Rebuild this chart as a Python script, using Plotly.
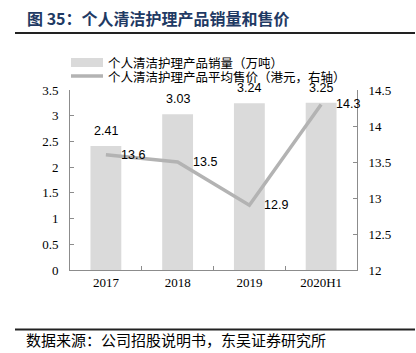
import plotly.graph_objects as go

categories = ["2017", "2018", "2019", "2020H1"]
volume = [2.41, 3.03, 3.24, 3.25]
price = [13.6, 13.5, 12.9, 14.3]
volume_labels = ["2.41", "3.03", "3.24", "3.25"]
price_labels = ["13.6", "13.5", "12.9", "14.3"]
left_ticks = [0, 0.5, 1, 1.5, 2, 2.5, 3, 3.5]
right_ticks = [12, 12.5, 13, 13.5, 14, 14.5]

title_text = "图 35：个人清洁护理产品销量和售价"
legend_bar = "个人清洁护理产品销量（万吨）"
legend_line = "个人清洁护理产品平均售价（港元，右轴）"
source_text = "数据来源：公司招股说明书，东吴证券研究所"

W, H = 416, 353
ML, MR, MT, MB = 70, 59, 90, 83
PW, PH = W - ML - MR, H - MT - MB

BAR_COLOR = "#dadada"
LINE_COLOR = "#b3b3b3"
AXIS_COLOR = "#8c8c8c"
SERIF = "Liberation Serif"
SANS = "Liberation Sans"
CJK = "Noto Sans CJK SC"

fig = go.Figure()
fig.add_trace(go.Bar(x=categories, y=volume, marker=dict(color=BAR_COLOR, line=dict(width=0)),
                     width=0.43, showlegend=False, hoverinfo="skip"))
fig.add_trace(go.Scatter(x=categories, y=price, yaxis="y2", mode="lines",
                         line=dict(color=LINE_COLOR, width=3.5), showlegend=False, hoverinfo="skip"))

annotations = []
for i, (v, t) in enumerate(zip(volume, volume_labels)):
    annotations.append(dict(x=i, y=v, xref="x", yref="y", text=t, showarrow=False,
                            yanchor="bottom", yshift=6,
                            font=dict(family=SANS, size=12.5, color="#000")))
for i, (v, t) in enumerate(zip(price, price_labels)):
    annotations.append(dict(x=i, y=v, xref="x", yref="y2", text=t, showarrow=False,
                            xanchor="left", xshift=13,
                            font=dict(family=SANS, size=12.5, color="#000")))

def px_x(p):
    return (p - ML) / PW
def px_y(p):
    return (H - MB - p) / PH

annotations.append(dict(x=px_x(25), y=px_y(18), xref="paper", yref="paper", text="<b>" + title_text + "</b>",
                        showarrow=False, xanchor="left", yanchor="middle",
                        font=dict(family=CJK, size=16, color="#1f3a64")))
annotations.append(dict(x=px_x(106), y=px_y(62), xref="paper", yref="paper", text=legend_bar,
                        showarrow=False, xanchor="left", yanchor="middle",
                        font=dict(family=CJK, size=12.5, color="#000")))
annotations.append(dict(x=px_x(106), y=px_y(76), xref="paper", yref="paper", text=legend_line,
                        showarrow=False, xanchor="left", yanchor="middle",
                        font=dict(family=CJK, size=12.5, color="#000")))
annotations.append(dict(x=px_x(24), y=px_y(339), xref="paper", yref="paper", text=source_text,
                        showarrow=False, xanchor="left", yanchor="middle",
                        font=dict(family=CJK, size=15, color="#000")))

shapes = [
    dict(type="line", xref="paper", yref="paper", x0=px_x(15), x1=px_x(415), y0=px_y(33), y1=px_y(33),
         line=dict(color="#222", width=2)),
    dict(type="line", xref="paper", yref="paper", x0=px_x(15), x1=px_x(415), y0=px_y(329.5), y1=px_y(329.5),
         line=dict(color="#222", width=2)),
    dict(type="rect", xref="paper", yref="paper", x0=px_x(71), x1=px_x(103), y0=px_y(67), y1=px_y(58),
         fillcolor=BAR_COLOR, line=dict(width=0)),
    dict(type="line", xref="paper", yref="paper", x0=px_x(71), x1=px_x(103), y0=px_y(76), y1=px_y(76),
         line=dict(color=LINE_COLOR, width=3.5)),
]

fig.update_layout(
    width=W, height=H,
    margin=dict(l=ML, r=MR, t=MT, b=MB, pad=0),
    paper_bgcolor="white", plot_bgcolor="white",
    annotations=annotations, shapes=shapes,
    xaxis=dict(type="category", range=[-0.5, 3.5], showline=True, linecolor=AXIS_COLOR, linewidth=1,
               ticks="inside", ticklen=4, tickcolor=AXIS_COLOR, tickson="boundaries",
               showgrid=False, tickfont=dict(family=SERIF, size=13, color="#000"), fixedrange=True),
    yaxis=dict(range=[0, 3.5], tickvals=left_ticks, showline=True, linecolor=AXIS_COLOR, linewidth=1,
               ticks="inside", ticklen=4, tickcolor=AXIS_COLOR, showgrid=False, zeroline=False,
               ticklabelstandoff=8,
               tickfont=dict(family=SERIF, size=13, color="#000")),
    yaxis2=dict(range=[12, 14.5], tickvals=right_ticks, overlaying="y", side="right", showline=True,
                linecolor=AXIS_COLOR, linewidth=1, ticks="inside", ticklen=4, tickcolor=AXIS_COLOR,
                showgrid=False, zeroline=False, ticklabelstandoff=8,
                tickfont=dict(family=SERIF, size=13, color="#000")),
)

fig.write_html("out.html")
